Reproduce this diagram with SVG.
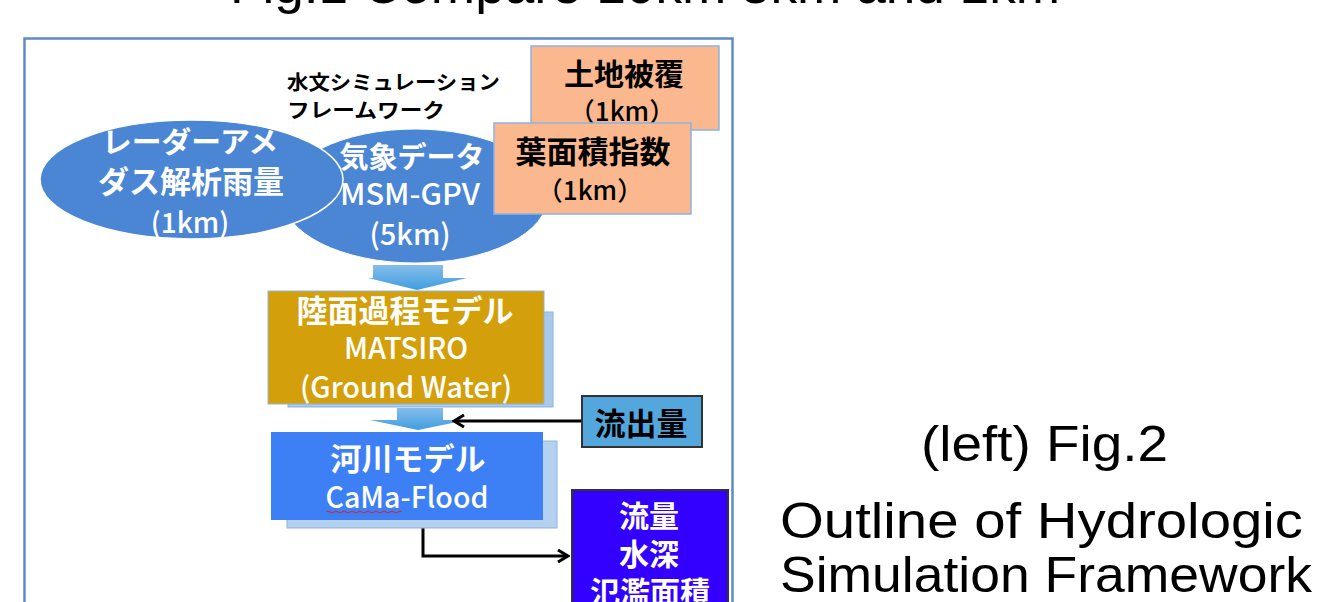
<svg xmlns="http://www.w3.org/2000/svg" width="1317" height="602" viewBox="0 0 1317 602">
<defs>
<style>
.jp{font-family:"Noto Sans CJK JP","Noto Sans",sans-serif;font-weight:500;}
.b{font-weight:bold;}
.w{fill:#ffffff;}
.k{fill:#000000;}
.lat{font-family:"Liberation Sans","Noto Sans",sans-serif;}
.conn{fill:none;stroke:#000;stroke-width:3;}
</style>
<linearGradient id="ag" x1="0" y1="0" x2="0" y2="1">
<stop offset="0" stop-color="#86bdea"/>
<stop offset="1" stop-color="#3f9de0"/>
</linearGradient>
<marker id="chev" viewBox="0 0 14 14" refX="12" refY="7" markerWidth="14" markerHeight="14" markerUnits="userSpaceOnUse" orient="auto">
<path d="M2,1 L12,7 L2,13" fill="none" stroke="#000" stroke-width="3"/>
</marker>
</defs>
<rect width="1317" height="602" fill="#ffffff"/>
<text class="lat k" x="230" y="3" font-size="52" textLength="830" lengthAdjust="spacingAndGlyphs">Fig.1  Compare 10km 5km and 1km</text>
<rect id="frame" x="24.5" y="38.5" width="708" height="600" fill="none" stroke="#5f8ac6" stroke-width="2.5"/>
<g id="label-framework">
<text class="jp b k" x="287" y="90" font-size="20" textLength="213" lengthAdjust="spacingAndGlyphs">水文シミュレーション</text>
<text class="jp b k" x="287" y="118" font-size="20" textLength="158" lengthAdjust="spacingAndGlyphs">フレームワーク</text>
</g>
<g id="node-msm">
<ellipse cx="415" cy="196" rx="133" ry="67" fill="#4a86d3" stroke="#ffffff" stroke-width="1"/>
<text class="jp b w" x="412" y="168" font-size="29" text-anchor="middle">気象データ</text>
<text class="jp w" x="410" y="205" font-size="29" text-anchor="middle" textLength="140" lengthAdjust="spacingAndGlyphs">MSM-GPV</text>
<text class="jp w" x="410" y="245" font-size="29" text-anchor="middle">(5km)</text>
</g>
<g id="node-radar">
<ellipse cx="191.5" cy="179.5" rx="151.5" ry="59.5" fill="#4a86d3" stroke="#ffffff" stroke-width="1.5"/>
<text class="jp b w" x="190" y="153" font-size="29" text-anchor="middle" textLength="176" lengthAdjust="spacingAndGlyphs">レーダーアメ</text>
<text class="jp b w" x="191" y="193" font-size="31" text-anchor="middle">ダス解析雨量</text>
<text class="jp w" x="190" y="233" font-size="28" text-anchor="middle">(1km)</text>
</g>
<g id="node-landcover">
<rect x="531" y="46" width="188" height="84" fill="#fbb78e" stroke="#8db3e2" stroke-width="1.5"/>
<text class="jp b k" x="624" y="85" font-size="30" text-anchor="middle">土地被覆</text>
<text class="jp k" x="622" y="121" font-size="26" text-anchor="middle">（1km）</text>
</g>
<g id="node-lai">
<rect x="494" y="123" width="197" height="91" fill="#fbb78e" stroke="#8db3e2" stroke-width="1.5"/>
<text class="jp b k" x="593" y="163" font-size="31" text-anchor="middle">葉面積指数</text>
<text class="jp k" x="590" y="200" font-size="26" text-anchor="middle">（1km）</text>
</g>
<g id="connectors">
<path d="M373,265 H443 V278 H467 L417,290 L368,278 H373 Z" fill="url(#ag)"/>
<path d="M397,408 H443 V420 H467 L418,430 L370,420 H397 Z" fill="url(#ag)"/>
<path class="conn" d="M583,421 H454" marker-end="url(#chev)"/>
<path class="conn" d="M423,527 V556 H568" marker-end="url(#chev)"/>
</g>
<g id="node-matsiro">
<rect x="288" y="312" width="265" height="95" fill="#a9c9ec" stroke="#8db3e2" stroke-width="1"/>
<rect x="268" y="291" width="276" height="113" fill="#d3a00b" stroke="#8db3e2" stroke-width="1"/>
<text class="jp b w" x="405" y="322" font-size="31" text-anchor="middle">陸面過程モデル</text>
<text class="jp w" x="406" y="359" font-size="29" text-anchor="middle">MATSIRO</text>
<text class="jp w" x="406" y="398" font-size="29" text-anchor="middle" textLength="212" lengthAdjust="spacingAndGlyphs">(Ground Water)</text>
</g>
<g id="node-runoff">
<rect x="582" y="396" width="120" height="51" fill="#54a7dd" stroke="#333333" stroke-width="2"/>
<text class="jp b k" x="641" y="435" font-size="31" text-anchor="middle">流出量</text>
</g>
<g id="node-cama">
<rect x="287" y="441" width="270" height="87" fill="#b4d2f0" stroke="#8db3e2" stroke-width="1"/>
<rect x="271" y="432" width="272" height="88" fill="#3d7ff4"/>
<text class="jp b w" x="408" y="470" font-size="31" text-anchor="middle">河川モデル</text>
<text class="jp w" x="407" y="508" font-size="29" text-anchor="middle" textLength="163" lengthAdjust="spacingAndGlyphs">CaMa-Flood</text>
<path d="M326,512 q2,-2 4,0 t4,0 t4,0 t4,0 t4,0 t4,0 t4,0 t4,0 t4,0 t4,0 t4,0 t4,0 t4,0 t4,0 t4,0 t4,0 t4,0 t4,0 t4,0" fill="none" stroke="#e02020" stroke-width="1"/>
</g>
<g id="node-output">
<rect x="572" y="490" width="156" height="130" fill="#3300ff" stroke="#333333" stroke-width="2"/>
<text class="jp b w" x="649" y="527" font-size="30" text-anchor="middle">流量</text>
<text class="jp b w" x="649" y="565" font-size="30" text-anchor="middle">水深</text>
<text class="jp b w" x="650" y="603" font-size="30" text-anchor="middle">氾濫面積</text>
</g>
<g id="caption">
<text class="lat k" x="921" y="461" font-size="50" textLength="247" lengthAdjust="spacingAndGlyphs">(left) Fig.2</text>
<text class="lat k" x="780" y="538" font-size="50" textLength="523" lengthAdjust="spacingAndGlyphs">Outline of Hydrologic</text>
<text class="lat k" x="780" y="592" font-size="50" textLength="532" lengthAdjust="spacingAndGlyphs">Simulation Framework</text>
</g>
</svg>
